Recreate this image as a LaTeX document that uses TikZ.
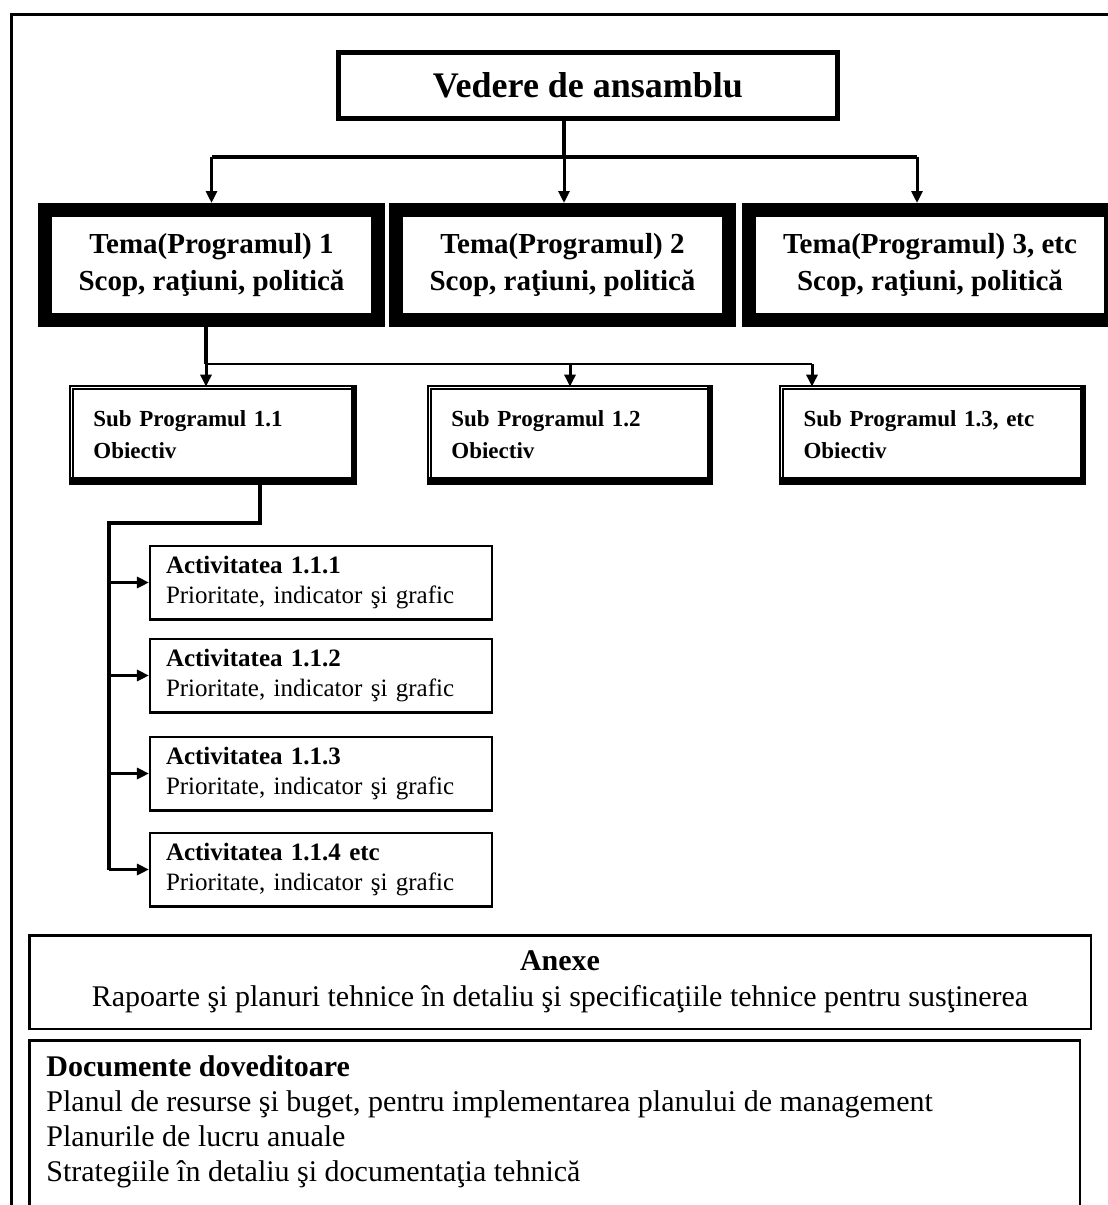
\documentclass[tikz,border=0pt]{standalone}
\usepackage{fontspec}
\setmainfont{Liberation Serif}
\usetikzlibrary{arrows.meta, positioning}

\begin{document}
\begin{tikzpicture}[x=0.5pt, y=-0.5pt, auto,
    overview/.style={rectangle, draw, line width=2.5pt, minimum width=249.5pt, minimum height=33pt, font=\fontsize{18}{22}\selectfont\bfseries},
    theme/.style={rectangle, draw, line width=7pt, minimum width=166.5pt, minimum height=55pt, align=center, font=\fontsize{14.5}{18.5}\selectfont\bfseries},
    subprog/.style={rectangle, draw, double, line width=0.8pt, double distance=0.8pt, minimum height=47.6pt, inner xsep=11pt, align=left, font=\fontsize{11.5}{16}\selectfont\bfseries},
    band/.style={fill=black},
    activity/.style={rectangle, draw, line width=1.25pt, minimum height=36.75pt, text width=155pt, inner xsep=7.9pt, align=left, font=\fontsize{12.5}{15}\selectfont},
    annex/.style={rectangle, draw, line width=1.25pt, font=\fontsize{15}{18}\selectfont},
    frame/.style={draw, line width=1.75pt},
    line/.style={draw, line width=1.5pt, -{Triangle[length=6pt, width=5.5pt]}},
    wire/.style={draw, line width=1.75pt},
    thinwire/.style={draw, line width=1pt}
]
    \useasboundingbox (0,0) rectangle (1108,1205);

    % Page frame
    \path [frame] (11.5,1205) -- (11.5,14.5) -- (1108,14.5);

    % Overview
    \node [overview] (overview) at (588,85.5) {Vedere de ansamblu};

    % Themes
    \node [theme] (theme1) at (211.5,265) {Tema(Programul) 1\\Scop, raţiuni, politică};
    \node [theme, right=2pt of theme1] (theme2) {Tema(Programul) 2\\Scop, raţiuni, politică};
    \node [theme, right=3pt of theme2, minimum width=181pt] (theme3) {Tema(Programul) 3, etc\\Scop, raţiuni, politică};

    % Sub programmes
    \node [subprog, text width=119.6pt] (sub1) at (213,435) {Sub Programul 1.1\\Obiectiv};
    \node [subprog, text width=118.6pt] (sub2) at (570,435) {Sub Programul 1.2\\Obiectiv};
    \node [subprog, text width=129pt] (sub3) at (932.5,435) {Sub Programul 1.3, etc\\Obiectiv};

    % heavy bottom and right edges of the sub programme boxes
    \path [band] ([shift={(-0.8pt,-0.8pt)}]sub1.south west) rectangle ([shift={(0.8pt,3.2pt)}]sub1.south east);
    \path [band] ([shift={(-2.2pt,0.8pt)}]sub1.north east) rectangle ([shift={(0.8pt,-0.8pt)}]sub1.south east);
    \path [band] ([shift={(-0.8pt,-0.8pt)}]sub2.south west) rectangle ([shift={(0.8pt,3.2pt)}]sub2.south east);
    \path [band] ([shift={(-2.2pt,0.8pt)}]sub2.north east) rectangle ([shift={(0.8pt,-0.8pt)}]sub2.south east);
    \path [band] ([shift={(-0.8pt,-0.8pt)}]sub3.south west) rectangle ([shift={(0.8pt,3.2pt)}]sub3.south east);
    \path [band] ([shift={(-2.2pt,0.8pt)}]sub3.north east) rectangle ([shift={(0.8pt,-0.8pt)}]sub3.south east);

    % Activities
    \node [activity] (act1) at (321,582.5) {\textbf{Activitatea 1.1.1}\\Prioritate, indicator şi grafic};
    \node [activity, below=8.5pt of act1] (act2) {\textbf{Activitatea 1.1.2}\\Prioritate, indicator şi grafic};
    \node [activity, below=11pt of act2] (act3) {\textbf{Activitatea 1.1.3}\\Prioritate, indicator şi grafic};
    \node [activity, below=10pt of act3] (act4) {\textbf{Activitatea 1.1.4 etc}\\Prioritate, indicator şi grafic};

    % Annexes and documents
    \node [annex, minimum width=530.75pt, minimum height=46.75pt, align=center] (annex) at (560,982) {\textbf{Anexe}\\Rapoarte şi planuri tehnice în detaliu şi specificaţiile tehnice pentru susţinerea};
    \node [annex, anchor=north west, minimum width=525.25pt, minimum height=110pt] (docs) at (28,1039) {};
    \node [anchor=north west, inner sep=0pt, align=left, font=\fontsize{15}{17.5}\selectfont] (docs text) at ([shift={(18,16)}]docs.north west) {\textbf{Documente doveditoare}\\Planul de resurse şi buget, pentru implementarea planului de management\\Planurile de lucru anuale\\Strategiile în detaliu şi documentaţia tehnică};

    % Connections
    \coordinate (bus top) at (564,157);
    \coordinate (drop3) at (917,157);
    \path [wire] (overview.south -| bus top) -- (bus top);
    \path [wire] (bus top -| theme1) -- (drop3);
    \path [line] (bus top -| theme1) -- (theme1);
    \path [line] (bus top) -- (bus top |- theme2.north);
    \path [line] (drop3) -- (drop3 |- theme3.north);

    \coordinate (bus mid) at (206,364);
    \coordinate (drop13) at (812,364);
    \path [wire] (theme1.south -| bus mid) -- (bus mid);
    \path [thinwire] (bus mid) -- (drop13);
    \path [line] (bus mid) -- (bus mid |- sub1.north);
    \path [line] (bus mid -| sub2) -- (sub2);
    \path [line] (drop13) -- (drop13 |- sub3.north);

    \coordinate (elbow) at (260,523);
    \coordinate (trunk) at (109,523);
    \path [wire] (sub1.south -| elbow) -- (elbow) -- (trunk) -- (trunk |- act4.west);
    \path [line] (trunk |- act1.west) -- (act1.west);
    \path [line] (trunk |- act2.west) -- (act2.west);
    \path [line] (trunk |- act3.west) -- (act3.west);
    \path [line] (trunk |- act4.west) -- (act4.west);
\end{tikzpicture}
\end{document}
